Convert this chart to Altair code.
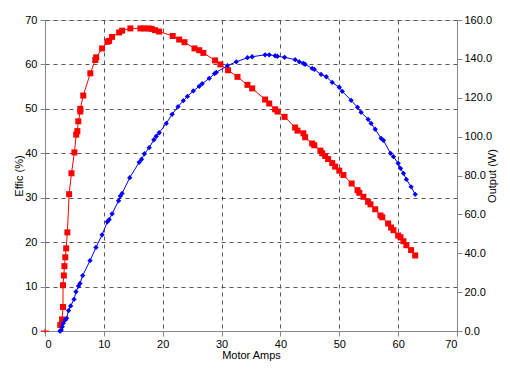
import altair as alt
import pandas as pd

# Efficiency series (left axis)
red_amps = [2.6, 2.9, 3.06, 3.06, 3.2, 3.3, 3.45, 3.6, 3.8, 4.1, 4.5, 5.0, 5.3, 5.5, 5.66, 6.0, 6.0, 6.5,
            7.7, 8.55, 8.7, 9.7, 10.6, 10.9, 11.4, 12.6, 13.1, 14.5, 16.2, 16.9, 17.6, 18.1, 18.7, 19.4,
            21.7, 22.8, 23.7, 25.4, 26.2, 26.9, 28.9, 29.8, 31.1, 32.7, 34.4, 35.2, 37.4, 38.1, 39.1, 39.5,
            40.7, 42.5, 42.9, 43.9, 44.2, 45.4, 45.75, 46.8, 47.1, 47.6, 48.1, 48.8, 49.3, 50.0, 50.7, 52.1,
            53.1, 53.4, 54.1, 54.9, 55.3, 56.1, 57.0, 57.3, 58.3, 58.8, 59.2, 60.0, 60.4, 60.9, 61.4, 62.2, 62.9]
red_effic = [1.35, 2.6, 5.4, 10.3, 12.5, 14.6, 16.6, 18.6, 22.2, 30.8, 35.5, 40.2, 44.2, 45.0, 47.2, 49.4, 50.0, 53.0,
             58.0, 61.0, 61.6, 63.6, 65.1, 65.3, 66.2, 67.2, 67.6, 68.1, 68.1, 68.1, 68.1, 68.0, 67.7, 67.4,
             66.4, 65.6, 65.0, 63.6, 63.2, 62.6, 60.9, 60.0, 58.7, 57.2, 55.4, 54.6, 52.1, 51.2, 49.9, 49.4,
             48.2, 45.8, 45.1, 44.5, 43.6, 42.2, 41.8, 40.6, 40.0, 39.4, 38.7, 37.8, 37.0, 36.1, 35.1, 33.2,
             31.7, 31.1, 30.2, 29.1, 28.5, 27.4, 26.0, 25.6, 24.2, 23.3, 22.7, 21.5, 21.1, 20.2, 19.3, 18.2, 17.0]

# Output series (right axis)
blue_amps = [2.55, 2.77, 2.94, 3.1, 3.45, 3.68, 4.0, 4.36, 4.93, 5.27, 5.7, 5.95, 6.4, 7.65, 8.66, 9.7,
             10.6, 10.9, 11.4, 12.5, 12.8, 13.1, 14.4, 16.0, 16.4, 16.9, 17.7, 18.5, 18.9, 19.4, 20.6, 21.6,
             22.6, 23.5, 24.2, 25.2, 26.2, 26.7, 27.9, 28.8, 29.1, 31.0, 32.5, 34.4, 35.2, 37.4, 38.1, 39.1,
             39.5, 40.7, 42.5, 43.2, 43.9, 44.2, 45.4, 45.75, 46.9, 47.8, 48.8, 50.0, 50.5, 52.0, 53.1, 53.7,
             54.9, 55.4, 56.1, 57.1, 57.5, 58.7, 59.2, 60.0, 60.4, 60.9, 61.4, 62.2, 62.9]
blue_watts = [0.0, 0.5, 2.2, 4.0, 5.7, 6.5, 10.5, 12.9, 16.3, 20.2, 23.1, 24.5, 28.5, 36.2, 43.0, 49.5,
              56.2, 57.3, 60.3, 67.0, 69.4, 70.8, 78.9, 86.8, 88.3, 91.2, 94.3, 98.4, 100.2, 102.0, 106.8, 111.5,
              115.4, 118.5, 120.7, 123.5, 125.9, 127.2, 130.0, 132.4, 133.1, 136.5, 138.5, 140.6, 141.1, 142.1, 142.1, 141.6,
              141.3, 140.8, 139.6, 138.5, 137.7, 137.2, 135.1, 134.6, 132.0, 130.8, 127.9, 125.4, 123.3, 118.7, 115.1, 112.5,
              108.9, 106.8, 103.8, 99.1, 98.1, 91.4, 89.7, 86.3, 83.7, 81.1, 78.0, 74.2, 70.3]

origin_amps = [0]
origin_effic = [0]

x_ticks = [0, 10, 20, 30, 40, 50, 60, 70]
left_ticks = [0, 10, 20, 30, 40, 50, 60, 70]
right_ticks = [0, 20, 40, 60, 80, 100, 120, 140, 160]

red_df = pd.DataFrame({"amps": red_amps, "effic": red_effic})
blue_df = pd.DataFrame({"amps": blue_amps, "watts": blue_watts})
origin_df = pd.DataFrame({"amps": origin_amps, "effic": origin_effic})

FONT = "Liberation Sans"
GRID = dict(grid=True, gridDash=[4, 4], gridColor="#555555", gridWidth=1, gridOpacity=1)
TXT = dict(titleFontWeight=400, titleFont=FONT, titleFontSize=11, titleColor="#000000",
           labelFont=FONT, labelFontSize=11, labelColor="#000000")

x_enc = alt.X("amps:Q", scale=alt.Scale(domain=[0, 70], nice=False, zero=False),
              axis=alt.Axis(values=x_ticks, title="Motor Amps", titlePadding=0, labelPadding=2,
                            **GRID, **TXT))
yl_enc = alt.Y("effic:Q", scale=alt.Scale(domain=[0, 70], nice=False),
               axis=alt.Axis(values=left_ticks, title="Effic (%)", titlePadding=0, labelPadding=3,
                             **GRID, **TXT))
yr_enc = alt.Y("watts:Q", scale=alt.Scale(domain=[0, 160], nice=False),
               axis=alt.Axis(values=right_ticks, title="Output (W)", orient="right", format=".1f",
                             grid=False, titleAngle=270, titlePadding=6, labelPadding=2, **TXT))

red_line = alt.Chart(red_df).mark_line(color="#ff0000", strokeWidth=1).encode(x=x_enc, y=yl_enc)
red_pts = alt.Chart(red_df).mark_point(shape="square", filled=True, size=36, color="#ff0000",
                                       opacity=1).encode(x=x_enc, y=yl_enc)
origin_pt = alt.Chart(origin_df).mark_point(shape="M-1,0H1M0,-0.5V0.5", filled=False, size=70,
                                            color="#ff0000", strokeWidth=1, opacity=1).encode(x=x_enc, y=yl_enc)

blue_line = alt.Chart(blue_df).mark_line(color="#0000ff", strokeWidth=1).encode(x=x_enc, y=yr_enc)
blue_pts = alt.Chart(blue_df).mark_point(shape="diamond", filled=True, size=28, color="#0000ff",
                                         opacity=1).encode(x=x_enc, y=yr_enc)

red = alt.layer(red_line, red_pts, origin_pt)
blue = alt.layer(blue_line, blue_pts)

chart = alt.layer(red, blue).resolve_scale(y="independent").properties(
    width=412, height=311,
    autosize=alt.AutoSizeParams(type="none"),
    padding={"left": 37, "top": 12, "right": 45, "bottom": 30},
).configure_view(stroke=None).configure_axis(
    domainColor="#000000", domainWidth=1, tickColor="#000000", tickSize=5, tickWidth=1,
).configure(background="white")

chart.save("out.html", embed_options={"renderer": "svg", "actions": False})
